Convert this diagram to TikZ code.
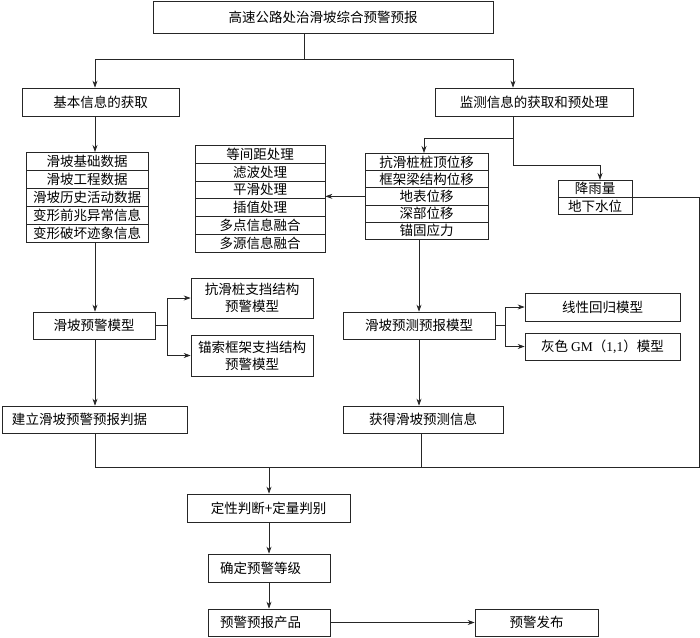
\documentclass[tikz,border=0pt]{standalone}
\usepackage{fontspec}
\setmainfont{Liberation Serif}
\newfontfamily\cjk{Noto Sans CJK SC}
\usetikzlibrary{arrows.meta, positioning}

\tikzset{
  box/.style={draw=black!85, line width=0.7pt, inner sep=1pt,
    font=\cjk\fontsize{13.5}{17}\selectfont, minimum height=27pt},
  cell/.style={box, minimum height=#1, anchor=north},
  lbox/.style={box, align=left, inner xsep=#1},
  link/.style={draw=black!85, line width=0.7pt},
  arr/.style={link, -{Stealth[length=7pt,width=5pt]}},
}

\begin{document}
\begin{tikzpicture}[x=1pt,y=-1pt]
\useasboundingbox (0,0) rectangle (700,637);
% column axes and bends
\coordinate (split) at (304,59);
\coordinate (colL) at (95,0);
\coordinate (colR) at (419,0);
\coordinate (mstem) at (513,0);
\coordinate (mbend) at (513,138);
\coordinate (rbend) at (513,165);
\coordinate (corner) at (699,467);
\coordinate (merge) at (269,467);

% first levels
\node[box, minimum width=340pt, minimum height=32pt] (top) at (323,17) {高速公路处治滑坡综合预警预报};
\node[box, minimum width=157pt, minimum height=28pt] (basic) at (100.5,102) {基本信息的获取};
\node[box, minimum width=198pt, minimum height=28pt] (monitor) at (534,102) {监测信息的获取和预处理};

% data lists
\foreach \t [count=\i] in {滑坡基础数据, 滑坡工程数据, 滑坡历史活动数据, 变形前兆异常信息, 变形破坏迹象信息}
  \node[cell=18pt, minimum width=122pt] (bd\i) at (87,{152+18*(\i-1)}) {\t};
\foreach \t [count=\i] in {等间距处理, 滤波处理, 平滑处理, 插值处理, 多点信息融合, 多源信息融合}
  \node[cell=17.8pt, minimum width=130pt] (pr\i) at (260,{145+17.8*(\i-1)}) {\t};
\foreach \t [count=\i] in {抗滑桩桩顶位移, 框架梁结构位移, 地表位移, 深部位移, 锚固应力}
  \node[cell=17.2pt, minimum width=123pt] (md\i) at (426.5,{153+17.2*(\i-1)}) {\t};
\foreach \t [count=\i] in {降雨量, 地下水位}
  \node[cell=17pt, minimum width=74pt] (rn\i) at (595,{180+17*(\i-1)}) {\t};

% models
\node[box, minimum width=122pt] (warn) at (94,325.5) {滑坡预警模型};
\node[box, minimum width=122pt, minimum height=40pt, align=center] (pile) at (252,298) {抗滑桩支挡结构\\预警模型};
\node[box, minimum width=122pt, minimum height=41pt, align=center] (cable) at (252,355.5) {锚索框架支挡结构\\预警模型};
\node[lbox=10pt, text width=165pt, minimum width=185pt] (crit) at (94.5,419.5) {建立滑坡预警预报判据};
\node[box, minimum width=152pt] (fore) at (419,325.5) {滑坡预测预报模型};
\node[box, minimum width=155pt, minimum height=28pt] (linear) at (602.5,307) {线性回归模型};
\node[box, minimum width=155pt] (grey) at (602.5,346.5) {灰色 {\rmfamily GM}（{\rmfamily 1,1}）模型};
\node[box, minimum width=160pt] (info) at (423,419.5) {获得滑坡预测信息};

% decision chain
\node[box, minimum width=163pt, minimum height=28pt] (judge) at (268.5,508) {定性判断+定量判别};
\node[lbox=12pt, text width=98pt, minimum width=122pt, minimum height=28pt] (level) at (269,568) {确定预警等级};
\node[lbox=12pt, text width=98pt, minimum width=122pt] (product) at (269,622.5) {预警预报产品};
\node[box, minimum width=123pt] (release) at (536.5,622.5) {预警发布};

% connectors, left side
\draw[link] (top.south -| split) -- (split);
\draw[arr] (split) -| (basic.north -| colL);
\draw[arr] (split) -| (monitor.north -| mstem);
\draw[arr] (basic.south -| colL) -- (bd1.north -| colL);
\draw[arr] (bd5.south -| colL) -- (warn.north -| colL);
\draw[link] (warn.east) -- ++(12,0) coordinate (wfork);
\draw[arr] (wfork) |- (pile.west);
\draw[arr] (wfork) |- (cable.west);
\draw[arr] (warn.south -| colL) -- (crit.north -| colL);
\draw[link] (crit.south -| colL) -- (colL |- merge);

% connectors, right side
\draw[link] (monitor.south -| mstem) -- (mbend);
\draw[arr] (mbend) -| ([xshift=-2.5pt]md1.north);
\draw[arr] (mbend) -- (rbend) -| ([xshift=5pt]rn1.north);
\draw[arr, {Stealth[length=7pt,width=5pt]}-] (md3.west -| pr1.east) -- (md3.west);
\draw[arr] (md5.south -| colR) -- (fore.north -| colR);
\draw[link] (fore.east) -- ++(10,0) coordinate (ffork);
\draw[arr] (ffork) |- (linear.west);
\draw[arr] (ffork) |- (grey.west);
\draw[arr] (fore.south -| colR) -- (info.north -| colR);
\draw[link] ([xshift=-2pt]info.south) -- ([xshift=-2pt]info.south |- merge);
\draw[link] (rn1.south east) -| (corner) -- (colL |- merge);

% connectors, bottom
\draw[arr] (merge) -- (judge.north -| merge);
\draw[arr] (judge.south -| merge) -- (level.north -| merge);
\draw[arr] (level.south -| merge) -- (product.north -| merge);
\draw[arr] (product) -- (release);
\end{tikzpicture}
\end{document}
